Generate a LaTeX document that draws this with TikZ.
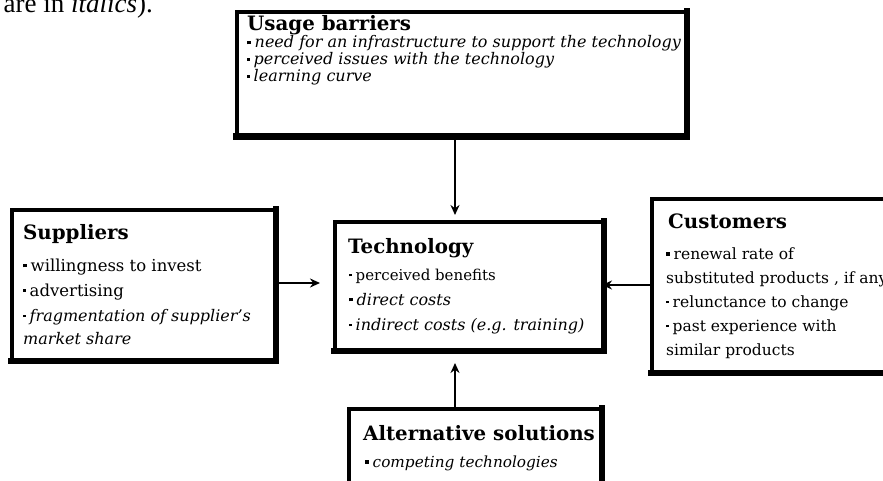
\documentclass[tikz,border=0pt]{standalone}
\usepackage{fontspec}
\setmainfont{DejaVu Serif}
\newfontfamily\topfont{Liberation Serif}
\usetikzlibrary{arrows.meta}
\newcommand{\bulA}{\rule[0.22em]{3.5pt}{3.5pt}\hspace{4pt}}
\newcommand{\bulB}{\rule[0.25em]{2.5pt}{2.5pt}\hspace{4pt}}
\newcommand{\fsz}[1]{\fontsize{#1}{#1}\selectfont}
% box macro: name, L, T, R, B (outer edges); top/left border 4, bottom/right 6.5
\newcommand{\mybox}[5]{%
  \pgfmathsetmacro{\bw}{#4-#2-4}%
  \pgfmathsetmacro{\bh}{#5-#3-4}%
  \node[frame, minimum width=\bw pt, minimum height=\bh pt] (#1) at ({(#2+#4)/2},{(#3+#5)/2}) {};
  \draw[line width=6.5pt] ([xshift=-2pt,yshift=1.25pt]#1.south west) -- ([xshift=-1.25pt,yshift=1.25pt]#1.south east) -- ([xshift=-1.25pt,yshift=2pt]#1.north east);
}
\begin{document}
\begin{tikzpicture}[x=1pt,y=-1pt,
  frame/.style={draw, line width=4pt, inner sep=0pt, fill=white},
  hd/.style={anchor=base west, inner sep=0pt, font=\bfseries\fsz{19.8}},
  ln/.style={anchor=base west, inner sep=0pt},
  varr/.style={line width=1.6pt, -{Stealth[length=10pt,width=9pt]}},
  harr/.style={line width=2.6pt, -{Stealth[length=10pt,width=9pt]}}]
\useasboundingbox (0,0) rectangle (883,481);
\clip (0,0) rectangle (883,481);
% top fragment of preceding text
\node[anchor=base east, inner sep=0pt, font=\topfont\fsz{27}] (prev) at (153,13) {are in \textit{italics}).};

\mybox{u}{235}{10}{688}{138}
\mybox{t}{333}{220}{605}{352}
\mybox{s}{10}{208}{277}{362}
\mybox{c}{650}{197}{900}{374}
\mybox{a}{347}{407}{603}{500}

% Usage barriers
\node[hd] (uh) at (247,31) {Usage barriers};
\node[ln, font=\itshape\fsz{16}] (u1) at (247,48) {\bulA need for an infrastructure to support the technology};
\node[ln, font=\itshape\fsz{16}] (u2) at (247,65) {\bulB perceived issues with the technology};
\node[ln, font=\itshape\fsz{16}] (u3) at (247,82) {\bulB learning curve};

% Technology
\node[hd] (th) at (348,253) {Technology};
\node[ln, font=\fsz{15}] (t1) at (349,280) {\bulB perceived benefits};
\node[ln, font=\itshape\fsz{16}] (t2) at (349,305) {\bulA direct costs};
\node[ln, font=\itshape\fsz{16}] (t3) at (349,330) {\bulB indirect costs (e.g. training)};

% Suppliers
\node[hd] (sh) at (23,240) {Suppliers};
\node[ln, font=\fsz{16.5}] (s1) at (23,271) {\bulA willingness to invest};
\node[ln, font=\fsz{16.5}] (s2) at (23,296) {\bulB advertising};
\node[ln, font=\itshape\fsz{16}] (s3) at (23,321) {\bulB fragmentation of supplier's};
\node[ln, font=\itshape\fsz{16}] (s4) at (23,344) {market share};

% Customers
\node[hd] (ch) at (668,228) {Customers};
\node[ln, font=\fsz{15.5}] (c1) at (666,259) {\bulA renewal rate of};
\node[ln, font=\fsz{15.5}] (c2) at (666,283) {substituted products , if any};
\node[ln, font=\fsz{15.5}] (c3) at (666,307) {\bulB relunctance to change};
\node[ln, font=\fsz{15.5}] (c4) at (666,331) {\bulB past experience with};
\node[ln, font=\fsz{15.5}] (c5) at (666,355) {similar products};

% Alternative solutions
\node[hd] (ah) at (363,440) {Alternative solutions};
\node[ln, font=\itshape\fsz{15.3}] (a1) at (365,467) {\bulA competing technologies};

% connectors
\coordinate (vx) at (455,0);
\coordinate (sy) at (0,283);
\coordinate (cy) at (0,285);
\draw[varr, shorten >=5pt] (u.south -| vx) -- (t.north -| vx);
\draw[varr, shorten >=11pt] (a.north -| vx) -- (t.south -| vx);
\draw[harr, shorten >=13pt] (s.east |- sy) -- (t.west |- sy);
\draw[harr, shorten >=-3pt] (c.west |- cy) -- (t.east |- cy);
\end{tikzpicture}
\end{document}
